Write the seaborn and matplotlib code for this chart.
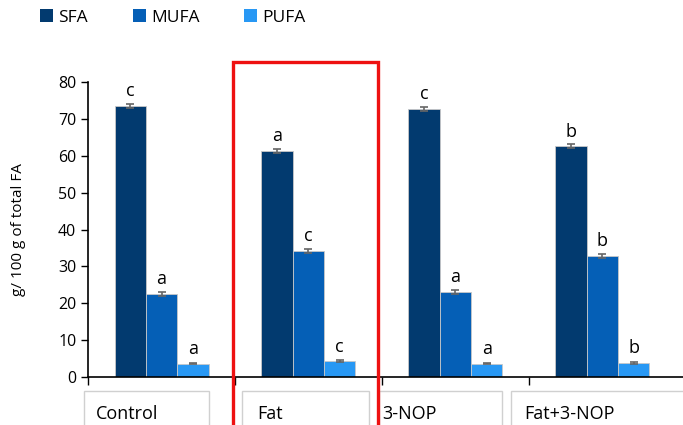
import pandas as pd
import seaborn as sns
import matplotlib.pyplot as plt
from matplotlib.patches import Rectangle, Patch
import matplotlib.transforms as mtrans

# 데이터
groups = ['Control', 'Fat', '3-NOP', 'Fat+3-NOP']
acids = ['SFA', 'MUFA', 'PUFA']
sfa = [73.5, 61.3, 72.7, 62.6]
mufa = [22.5, 34.2, 23.1, 32.9]
pufa = [3.6, 4.3, 3.6, 3.8]
sfa_err = [0.5, 0.5, 0.5, 0.5]
mufa_err = [0.5, 0.5, 0.5, 0.5]
pufa_err = [0.2, 0.2, 0.2, 0.2]
sfa_lett = ['c', 'a', 'c', 'b']
mufa_lett = ['a', 'c', 'a', 'b']
pufa_lett = ['a', 'c', 'a', 'b']

colors = ['#023a6f', '#055fb6', '#2898f4']

df = pd.DataFrame({
    'group': groups * 3,
    'acid': [a for a in acids for _ in groups],
    'value': sfa + mufa + pufa,
    'err': sfa_err + mufa_err + pufa_err,
    'letter': sfa_lett + mufa_lett + pufa_lett,
})

sns.set_style('white')
plt.rcParams['font.family'] = ['Open Sans', 'DejaVu Sans']
plt.rcParams['text.color'] = 'black'
plt.rcParams['axes.labelcolor'] = 'black'
plt.rcParams['xtick.color'] = 'black'
plt.rcParams['ytick.color'] = 'black'

fig = plt.figure(figsize=(6.83, 4.25), dpi=100)
ax = fig.add_axes([0.129, 0.113, 0.871, 0.694])

sns.barplot(data=df, x='group', y='value', hue='acid', order=groups,
            hue_order=acids, palette=colors, width=0.64, errorbar=None,
            edgecolor='#c8c8c8', linewidth=0.6, saturation=1, legend=False, ax=ax)

# 오차 막대와 유의성 문자
for container, acid in zip(ax.containers, acids):
    sub = df[df['acid'] == acid].set_index('group').loc[groups]
    for bar, (_, row) in zip(container, sub.iterrows()):
        cx = bar.get_x() + bar.get_width() / 2
        h = bar.get_height()
        ax.errorbar(cx, h, yerr=row['err'], fmt='none', ecolor='#666666',
                    elinewidth=1.2, capsize=3, capthick=1.2)
        ax.text(cx, h + 1.5, row['letter'], ha='center', va='bottom', fontsize=13)

ax.set_ylim(0, 80)
ax.set_xlim(-0.5, 3.55)
ax.set_yticks(range(0, 81, 10))
ax.tick_params(axis='y', labelsize=11.5, length=5, width=1, direction='out', left=True)
ax.set_xticks([])
ax.set_xticks([-0.5, 0.5, 1.5, 2.5], minor=True)
ax.tick_params(axis='x', which='minor', length=6, width=1, direction='out', bottom=True)
ax.set_xlabel('')
ax.set_ylabel('g/ 100 g of total FA', fontsize=11)
ax.yaxis.set_label_coords(-0.105, 0.5)
sns.despine(ax=ax, top=True, right=True)
for s in ['left', 'bottom']:
    ax.spines[s].set_color('black')
    ax.spines[s].set_linewidth(1.2)

# 박스 형태의 x축 라벨
trans = mtrans.blended_transform_factory(ax.transData, fig.transFigure)
box_l = [-0.53, -0.45, -0.52, -0.62]
box_r = [0.32, 0.41, 0.32, 0.6]
text_l = [-0.45, -0.35, -0.5, -0.53]
for i, g in enumerate(groups):
    ax.add_artist(Rectangle((i + box_l[i], -0.02), box_r[i] - box_l[i], 0.1,
                            transform=trans, fill=False, edgecolor='#d0d0d0',
                            linewidth=1, clip_on=False))
    ax.text(i + text_l[i], 0.027, g, transform=trans, ha='left', va='center',
            fontsize=13, clip_on=False)

# 빨간 강조 박스
fig.add_artist(Rectangle((0.341, -0.01), 0.212, 0.864, transform=fig.transFigure,
                         fill=False, edgecolor='#ee1111', linewidth=2.4))

# 범례
handles = [Patch(facecolor=c, edgecolor='none') for c in colors]
fig.legend(handles, acids, loc='upper left', bbox_to_anchor=(0.035, 1.015), ncol=3,
           frameon=False, fontsize=12.5, handlelength=0.75, handleheight=0.75,
           handletextpad=0.3, columnspacing=2.6)

fig.savefig('out.png', dpi=100)
